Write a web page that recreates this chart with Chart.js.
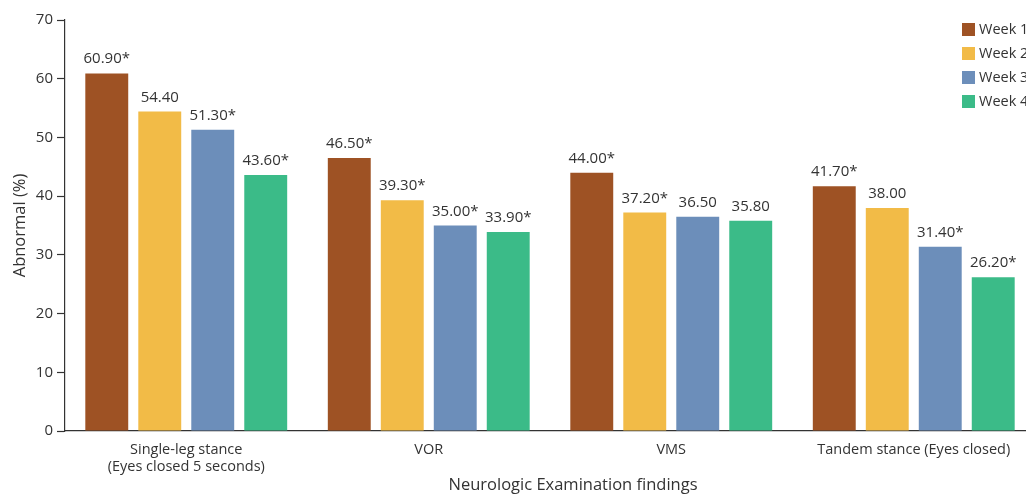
<!DOCTYPE html>
<html>
<head>
<meta charset="utf-8">
<script src="https://cdn.jsdelivr.net/npm/chart.js@4/dist/chart.umd.min.js"></script>
<style>
html,body{margin:0;padding:0;background:#fff;overflow:hidden;}
#wrap{width:1060px;height:495px;}
</style>
</head>
<body>
<div id="wrap"><canvas id="c" width="1060" height="495"></canvas></div>
<script>
const categories = [["Single-leg stance","(Eyes closed 5 seconds)"], "VOR", "VMS", "Tandem stance (Eyes closed)"];
const seriesNames = ["Week 1", "Week 2", "Week 3", "Week 4"];
const week1 = [60.90, 46.50, 44.00, 41.70];
const week2 = [54.40, 39.30, 37.20, 38.00];
const week3 = [51.30, 35.00, 36.50, 31.40];
const week4 = [43.60, 33.90, 35.80, 26.20];
const sig1 = [true, true, true, true];
const sig2 = [false, true, true, false];
const sig3 = [true, true, false, true];
const sig4 = [true, true, false, true];
const colors = ["#9E5224", "#F2BB47", "#6C8EBA", "#3BBB88"];
const yTicks = [0, 10, 20, 30, 40, 50, 60, 70];
const xTitle = "Neurologic Examination findings";
const yTitle = "Abnormal (%)";

const FONT = "'Open Sans', 'Noto Sans', sans-serif";
const TXT = "#333333";

const allSeries = [week1, week2, week3, week4];
const allSig = [sig1, sig2, sig3, sig4];

const labelPlugin = {
  id: 'valLabels',
  afterDatasetsDraw(chart) {
    const ctx = chart.ctx;
    ctx.save();
    ctx.font = "15px " + FONT;
    ctx.fillStyle = TXT;
    ctx.textAlign = 'center';
    ctx.textBaseline = 'alphabetic';
    chart.data.datasets.forEach((ds, di) => {
      const meta = chart.getDatasetMeta(di);
      meta.data.forEach((bar, i) => {
        const v = ds.data[i];
        const t = v.toFixed(2) + (allSig[di][i] ? "*" : "");
        ctx.fillText(t, bar.x, bar.y - 10);
      });
    });
    ctx.restore();
  }
};

const legendPlugin = {
  id: 'customLegend',
  afterDraw(chart) {
    const ctx = chart.ctx;
    ctx.save();
    ctx.font = "14.5px " + FONT;
    ctx.textBaseline = 'middle';
    ctx.textAlign = 'left';
    chart.data.datasets.forEach((ds, di) => {
      const y = 23 + di * 24;
      ctx.fillStyle = ds.backgroundColor;
      ctx.fillRect(962, y, 13, 13);
      ctx.fillStyle = TXT;
      ctx.fillText(ds.label, 979, y + 7);
    });
    // x axis title (offset to the right as in the original figure)
    ctx.font = "16.5px " + FONT;
    ctx.textAlign = 'center';
    ctx.fillText(xTitle, chart.chartArea.left + 508, 485);
    ctx.restore();
  }
};

new Chart(document.getElementById('c'), {
  type: 'bar',
  data: {
    labels: categories,
    datasets: allSeries.map((d, i) => ({
      label: seriesNames[i],
      data: d,
      backgroundColor: colors[i],
      barPercentage: 0.81,
      categoryPercentage: 0.874
    }))
  },
  options: {
    responsive: false,
    animation: false,
    layout: { padding: { top: 20, right: 25, left: 0, bottom: 0 } },
    plugins: { legend: { display: false }, tooltip: { enabled: false } },
    scales: {
      x: {
        grid: { display: false, drawTicks: false },
        border: { display: true, color: TXT, width: 1.2 },
        ticks: { color: TXT, font: { family: FONT, size: 14.5 }, padding: 10, maxRotation: 0, autoSkip: false },
        title: { display: false },
        afterFit(s) { s.height = 64; }
      },
      y: {
        min: 0, max: 70,
        afterBuildTicks(s) { s.ticks = yTicks.map(v => ({ value: v })); },
        grid: { drawOnChartArea: false, drawTicks: true, tickLength: 8, color: TXT, tickWidth: 1.2 },
        border: { display: true, color: TXT, width: 1.2 },
        ticks: { color: TXT, font: { family: FONT, size: 15 }, padding: 4 },
        title: { display: true, text: yTitle, color: TXT, font: { family: FONT, size: 16.5 }, padding: { top: 10, bottom: 0 } },
        afterFit(s) { s.width = 65; }
      }
    }
  },
  plugins: [labelPlugin, legendPlugin]
});
</script>
</body>
</html>
